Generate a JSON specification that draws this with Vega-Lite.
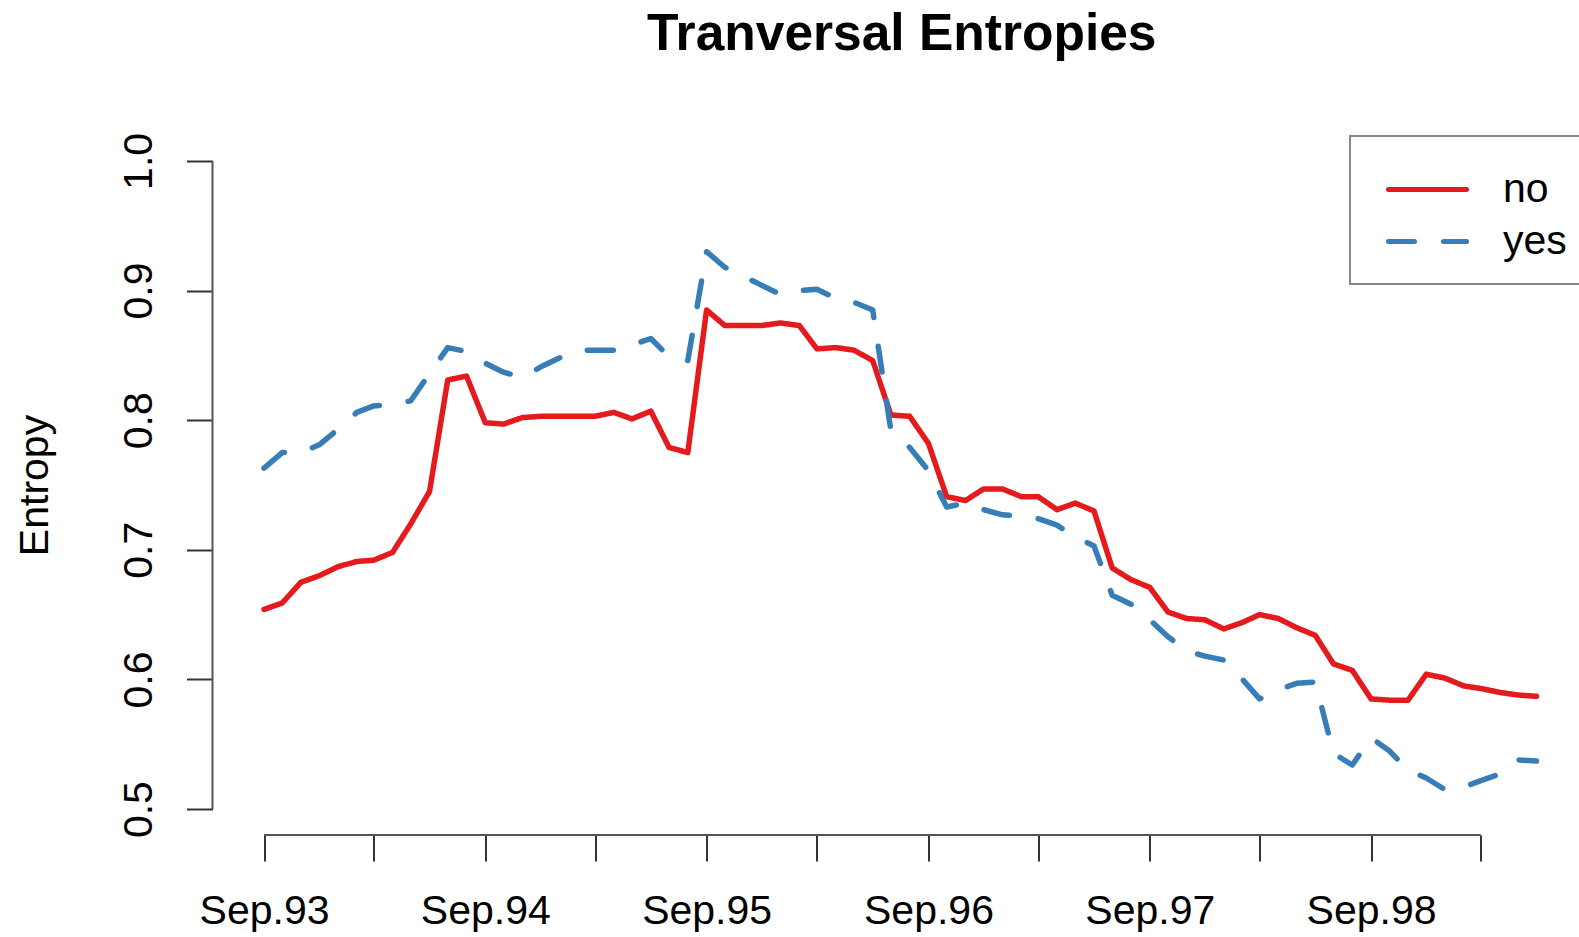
{
  "$schema": "https://vega.github.io/schema/vega-lite/v6.json",
  "width": 1366.5,
  "height": 700,
  "autosize": {"type": "none"},
  "padding": {"left": 212.5, "top": 135, "right": 0, "bottom": 102},
  "background": "white",
  "title": {
    "text": "Tranversal Entropies",
    "font": "Liberation Sans",
    "fontSize": 51.5,
    "fontWeight": "bold",
    "color": "#000000",
    "anchor": "middle",
    "baseline": "alphabetic",
    "dx": 6,
    "offset": 31
  },
  "config": {
    "view": {"stroke": null},
    "axis": {"grid": false, "domain": false, "labelFont": "Liberation Sans", "titleFont": "Liberation Sans", "labelColor": "#000000", "titleColor": "#000000", "tickColor": "#333333", "tickWidth": 2}
  },
  "data": {
    "values": [
      {"date": "1993-09", "no": 0.654, "yes": 0.763},
      {"date": "1993-10", "no": 0.659, "yes": 0.775},
      {"date": "1993-11", "no": 0.675, "yes": 0.775},
      {"date": "1993-12", "no": 0.680, "yes": 0.781},
      {"date": "1994-01", "no": 0.687, "yes": 0.793},
      {"date": "1994-02", "no": 0.691, "yes": 0.806},
      {"date": "1994-03", "no": 0.692, "yes": 0.811},
      {"date": "1994-04", "no": 0.698, "yes": 0.812},
      {"date": "1994-05", "no": 0.720, "yes": 0.815},
      {"date": "1994-06", "no": 0.745, "yes": 0.836},
      {"date": "1994-07", "no": 0.831, "yes": 0.856},
      {"date": "1994-08", "no": 0.834, "yes": 0.853},
      {"date": "1994-09", "no": 0.798, "yes": 0.844},
      {"date": "1994-10", "no": 0.797, "yes": 0.837},
      {"date": "1994-11", "no": 0.802, "yes": 0.833},
      {"date": "1994-12", "no": 0.803, "yes": 0.841},
      {"date": "1995-01", "no": 0.803, "yes": 0.848},
      {"date": "1995-02", "no": 0.803, "yes": 0.854},
      {"date": "1995-03", "no": 0.803, "yes": 0.854},
      {"date": "1995-04", "no": 0.806, "yes": 0.854},
      {"date": "1995-05", "no": 0.801, "yes": 0.858},
      {"date": "1995-06", "no": 0.807, "yes": 0.863},
      {"date": "1995-07", "no": 0.779, "yes": 0.849},
      {"date": "1995-08", "no": 0.775, "yes": 0.846},
      {"date": "1995-09", "no": 0.885, "yes": 0.930},
      {"date": "1995-10", "no": 0.873, "yes": 0.918},
      {"date": "1995-11", "no": 0.873, "yes": 0.911},
      {"date": "1995-12", "no": 0.873, "yes": 0.904},
      {"date": "1996-01", "no": 0.875, "yes": 0.897},
      {"date": "1996-02", "no": 0.873, "yes": 0.900},
      {"date": "1996-03", "no": 0.855, "yes": 0.901},
      {"date": "1996-04", "no": 0.856, "yes": 0.894},
      {"date": "1996-05", "no": 0.854, "yes": 0.891},
      {"date": "1996-06", "no": 0.846, "yes": 0.885},
      {"date": "1996-07", "no": 0.804, "yes": 0.792},
      {"date": "1996-08", "no": 0.803, "yes": 0.779},
      {"date": "1996-09", "no": 0.782, "yes": 0.761},
      {"date": "1996-10", "no": 0.741, "yes": 0.733},
      {"date": "1996-11", "no": 0.738, "yes": 0.736},
      {"date": "1996-12", "no": 0.747, "yes": 0.731},
      {"date": "1997-01", "no": 0.747, "yes": 0.727},
      {"date": "1997-02", "no": 0.741, "yes": 0.726},
      {"date": "1997-03", "no": 0.741, "yes": 0.724},
      {"date": "1997-04", "no": 0.731, "yes": 0.719},
      {"date": "1997-05", "no": 0.736, "yes": 0.710},
      {"date": "1997-06", "no": 0.730, "yes": 0.703},
      {"date": "1997-07", "no": 0.686, "yes": 0.665},
      {"date": "1997-08", "no": 0.677, "yes": 0.658},
      {"date": "1997-09", "no": 0.671, "yes": 0.646},
      {"date": "1997-10", "no": 0.652, "yes": 0.633},
      {"date": "1997-11", "no": 0.647, "yes": 0.622},
      {"date": "1997-12", "no": 0.646, "yes": 0.618},
      {"date": "1998-01", "no": 0.639, "yes": 0.615},
      {"date": "1998-02", "no": 0.644, "yes": 0.600},
      {"date": "1998-03", "no": 0.650, "yes": 0.585},
      {"date": "1998-04", "no": 0.647, "yes": 0.592},
      {"date": "1998-05", "no": 0.640, "yes": 0.597},
      {"date": "1998-06", "no": 0.634, "yes": 0.598},
      {"date": "1998-07", "no": 0.612, "yes": 0.543},
      {"date": "1998-08", "no": 0.607, "yes": 0.534},
      {"date": "1998-09", "no": 0.585, "yes": 0.555},
      {"date": "1998-10", "no": 0.584, "yes": 0.545},
      {"date": "1998-11", "no": 0.584, "yes": 0.530},
      {"date": "1998-12", "no": 0.604, "yes": 0.524},
      {"date": "1999-01", "no": 0.601, "yes": 0.515},
      {"date": "1999-02", "no": 0.595, "yes": 0.517},
      {"date": "1999-03", "no": 0.593, "yes": 0.522},
      {"date": "1999-04", "no": 0.590, "yes": 0.527},
      {"date": "1999-05", "no": 0.588, "yes": 0.538},
      {"date": "1999-06", "no": 0.587, "yes": 0.537}
    ]
  },
  "layer": [
    {
      "data": {"values": [{}]},
      "mark": {"type": "rule", "color": "#555555", "strokeWidth": 2},
      "encoding": {
        "x": {"datum": {"year": 1993, "month": 6, "date": 8, "utc": true}, "type": "temporal", "scale": {"type": "utc", "domain": [{"year": 1993, "month": 6, "date": 8, "utc": true}, {"year": 1999, "month": 8, "date": 10, "utc": true}]}},
        "y": {"datum": 0.5, "type": "quantitative"},
        "y2": {"datum": 1.0}
      }
    },
    {
      "data": {"values": [{}]},
      "mark": {"type": "rule", "color": "#555555", "strokeWidth": 2},
      "encoding": {
        "x": {"datum": {"year": 1993, "month": 9, "date": 1, "utc": true}, "type": "temporal"},
        "x2": {"datum": {"year": 1999, "month": 3, "date": 1, "utc": true}},
        "y": {"datum": 0.48, "type": "quantitative"}
      }
    },
    {
      "transform": [{"fold": ["no", "yes"], "as": ["series", "entropy"]}],
      "mark": {"type": "line", "strokeWidth": 5.5, "strokeCap": "round", "strokeJoin": "round"},
      "encoding": {
        "x": {
          "field": "date",
          "type": "temporal",
          "scale": {"type": "utc", "domain": [{"year": 1993, "month": 6, "date": 8, "utc": true}, {"year": 1999, "month": 8, "date": 10, "utc": true}]},
          "axis": {
            "title": null,
            "values": [
              {"year": 1993, "month": 9, "date": 1, "utc": true},
              {"year": 1994, "month": 3, "date": 1, "utc": true},
              {"year": 1994, "month": 9, "date": 1, "utc": true},
              {"year": 1995, "month": 3, "date": 1, "utc": true},
              {"year": 1995, "month": 9, "date": 1, "utc": true},
              {"year": 1996, "month": 3, "date": 1, "utc": true},
              {"year": 1996, "month": 9, "date": 1, "utc": true},
              {"year": 1997, "month": 3, "date": 1, "utc": true},
              {"year": 1997, "month": 9, "date": 1, "utc": true},
              {"year": 1998, "month": 3, "date": 1, "utc": true},
              {"year": 1998, "month": 9, "date": 1, "utc": true},
              {"year": 1999, "month": 3, "date": 1, "utc": true}
            ],
            "labelExpr": "utcmonth(datum.value) == 8 ? utcFormat(datum.value, '%b.%y') : ''",
            "labelFontSize": 41,
            "labelBaseline": "alphabetic",
            "labelAlign": "center",
            "labelAngle": 0,
            "labelPadding": 62.5,
            "labelFlush": false,
            "labelOverlap": false,
            "tickSize": 26
          }
        },
        "y": {
          "field": "entropy",
          "type": "quantitative",
          "scale": {"domain": [0.48, 1.02], "nice": false, "zero": false},
          "axis": {
            "title": "Entropy",
            "titleFontSize": 41,
            "titleFontWeight": "normal",
            "titleAngle": -90,
            "titleAlign": "center",
            "titleBaseline": "alphabetic",
            "titleX": -165.5,
            "titleY": 350,
            "values": [0.5, 0.6, 0.7, 0.8, 0.9, 1.0],
            "format": ".1f",
            "labelFontSize": 41,
            "labelAngle": -90,
            "labelAlign": "center",
            "labelBaseline": "alphabetic",
            "labelPadding": 35.5,
            "labelFlush": false,
            "labelOverlap": false,
            "tickSize": 26
          }
        },
        "color": {
          "field": "series",
          "type": "nominal",
          "scale": {"domain": ["no", "yes"], "range": ["#E41A1C", "#377EB8"]},
          "legend": {
            "title": null,
            "orient": "none",
            "legendX": 1137.5,
            "legendY": 1,
            "padding": 22,
            "symbolType": "M-1.345,0H1.345",
            "symbolSize": 3364,
            "symbolStrokeWidth": 5,
            "symbolOffset": 24,
            "labelOffset": 44,
            "rowPadding": 0,
            "labelFont": "Liberation Sans",
            "labelFontSize": 41,
            "labelColor": "#000000",
            "labelLimit": 0,
            "strokeColor": "#888888",
            "fillColor": "#ffffff",
            "encode": {
              "legend": {"update": {"strokeWidth": {"value": 2}}},
              "symbols": {"update": {"strokeCap": {"value": "round"}}}
            }
          }
        },
        "strokeDash": {
          "field": "series",
          "type": "nominal",
          "scale": {"domain": ["no", "yes"], "range": [[1, 0], [26, 29]]},
          "legend": {
            "title": null,
            "orient": "none",
            "legendX": 1137.5,
            "legendY": 1,
            "padding": 22,
            "symbolType": "M-1.345,0H1.345",
            "symbolSize": 3364,
            "symbolStrokeWidth": 5,
            "symbolOffset": 24,
            "labelOffset": 44,
            "rowPadding": 0,
            "labelFont": "Liberation Sans",
            "labelFontSize": 41,
            "labelColor": "#000000",
            "labelLimit": 0,
            "strokeColor": "#888888",
            "fillColor": "#ffffff"
          }
        }
      }
    }
  ]
}
